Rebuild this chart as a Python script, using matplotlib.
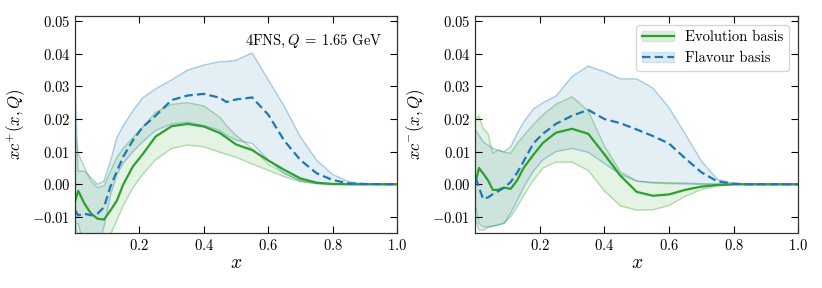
import matplotlib
matplotlib.use("Agg")
import matplotlib.pyplot as plt
from matplotlib.patches import Patch
from matplotlib.lines import Line2D
from matplotlib.ticker import FuncFormatter

plt.rcParams.update({
    "font.family": "serif",
    "font.serif": ["cmr10", "DejaVu Serif"],
    "mathtext.fontset": "cm",
    "axes.unicode_minus": False,
    "font.size": 10,
})

# ---------------- left panel: x c+ ----------------
x_L = [0.001, 0.01, 0.03, 0.05, 0.07, 0.09, 0.11, 0.13, 0.15, 0.18, 0.21, 0.25,
       0.30, 0.35, 0.40, 0.45, 0.47, 0.50, 0.55, 0.60, 0.65, 0.70, 0.75, 0.80,
       0.85, 0.90, 1.0]
evo_cp = [-0.005, -0.002, -0.006, -0.009, -0.0105, -0.0108, -0.008, -0.005, 0.000,
          0.0055, 0.0092, 0.0146, 0.0178, 0.0185, 0.0177, 0.0157, 0.0143, 0.0122,
          0.0105, 0.0073, 0.0044, 0.0018, 0.0005, 0.0001, 0.0, 0.0, 0.0]
evo_cp_hi = [0.015, 0.0095, 0.005, 0.001, -0.001, -0.0005, 0.004, 0.0083, 0.011,
             0.0144, 0.0175, 0.022, 0.0245, 0.025, 0.024, 0.0205, 0.018, 0.015,
             0.011, 0.0062, 0.0033, 0.0013, 0.0004, 0.0001, 0.0, 0.0, 0.0]
evo_cp_lo = [-0.012, -0.016, -0.020, -0.022, -0.022, -0.020, -0.0155, -0.011,
             -0.0065, -0.001, 0.003, 0.0075, 0.011, 0.012, 0.0115, 0.0098, 0.0092,
             0.0083, 0.0062, 0.0043, 0.0023, 0.0008, 0.0002, 0.0, 0.0, 0.0, 0.0]
fla_cp = [-0.008, -0.0095, -0.009, -0.0095, -0.009, -0.007, -0.0007, 0.004, 0.0085,
          0.0135, 0.0175, 0.021, 0.0258, 0.0272, 0.0277, 0.0265, 0.0252, 0.026,
          0.0266, 0.0213, 0.0133, 0.0074, 0.0034, 0.0013, 0.0003, 0.0001, 0.0]
fla_cp_hi = [0.028, 0.004, 0.004, 0.002, 0.0, 0.001, 0.007, 0.0143, 0.018, 0.0225,
             0.0265, 0.0292, 0.032, 0.035, 0.0365, 0.0376, 0.0376, 0.038, 0.0402,
             0.032, 0.0238, 0.0145, 0.0074, 0.003, 0.0008, 0.0001, 0.0]
fla_cp_lo = [-0.012, -0.012, -0.020, -0.025, -0.020, -0.013, -0.0035, 0.003, 0.0065,
             0.010, 0.013, 0.0165, 0.0185, 0.019, 0.018, 0.0165, 0.015, 0.0135,
             0.0125, 0.0074, 0.0034, 0.001, 0.0002, 0.0, 0.0, 0.0, 0.0]

# ---------------- right panel: x c- ----------------
x_R = [0.002, 0.012, 0.025, 0.04, 0.055, 0.07, 0.09, 0.11, 0.13, 0.15, 0.18, 0.21,
       0.25, 0.30, 0.35, 0.40, 0.45, 0.50, 0.55, 0.60, 0.65, 0.70, 0.75, 0.80,
       0.85, 0.90, 1.0]
evo_cm = [0.001, 0.005, 0.0033, 0.0012, -0.0017, -0.0017, -0.001, -0.0014, 0.0012,
          0.005, 0.009, 0.0127, 0.0158, 0.017, 0.0155, 0.0092, 0.0026, -0.0023,
          -0.0035, -0.0031, -0.0017, -0.0007, -0.0002, 0.0, 0.0, 0.0, 0.0]
evo_cm_hi = [0.020, 0.021, 0.017, 0.0155, 0.0095, 0.0105, 0.0098, 0.0095, 0.0125,
             0.0148, 0.0183, 0.0213, 0.0245, 0.0268, 0.0225, 0.0118, 0.0038, 0.001,
             0.0006, 0.0005, 0.0004, 0.0002, 0.0001, 0.0, 0.0, 0.0, 0.0]
evo_cm_lo = [-0.007, -0.012, -0.013, -0.013, -0.0128, -0.0125, -0.0118, -0.010,
             -0.0068, -0.0035, 0.0012, 0.005, 0.0068, 0.0068, 0.0043, -0.002,
             -0.0066, -0.0079, -0.0078, -0.0065, -0.0037, -0.0016, -0.0005,
             -0.0001, 0.0, 0.0, 0.0]
fla_cm = [0.002, -0.001, -0.0045, -0.004, -0.003, -0.0022, -0.001, 0.0007, 0.0035,
          0.007, 0.0125, 0.0155, 0.0185, 0.021, 0.0228, 0.020, 0.0187, 0.0168,
          0.0148, 0.0125, 0.008, 0.0037, 0.0009, 0.0002, 0.0, 0.0, 0.0]
fla_cm_hi = [0.0166, 0.015, 0.013, 0.012, 0.011, 0.0105, 0.010, 0.0115, 0.0155,
             0.019, 0.023, 0.025, 0.027, 0.033, 0.0362, 0.0345, 0.0323, 0.0323,
             0.0295, 0.0235, 0.0155, 0.0072, 0.0015, 0.0003, 0.0, 0.0, 0.0]
fla_cm_lo = [-0.011, -0.014, -0.014, -0.0132, -0.0128, -0.0125, -0.012, -0.0088,
             -0.005, -0.001, 0.004, 0.0075, 0.010, 0.011, 0.0098, 0.0064, 0.003,
             0.001, 0.0004, 0.0002, 0.0001, 0.0, 0.0, 0.0, 0.0, 0.0, 0.0]

labels = ["Evolution basis", "Flavour basis"]
ylabels = [r"$xc^{+}(x,Q)$", r"$xc^{-}(x,Q)$"]
annot = r"4FNS$,Q\:=\:1.65$ GeV"
xticks = [0.2, 0.4, 0.6, 0.8, 1.0]
yticks = [-0.01, 0.0, 0.01, 0.02, 0.03, 0.04, 0.05]

GREEN = "#2ca02c"
BLUE = "#1f77b4"

fig = plt.figure(figsize=(8.22, 2.88), dpi=100)
axL = fig.add_axes([0.0912, 0.191, 0.392, 0.753])
axR = fig.add_axes([0.578, 0.191, 0.393, 0.753])

panels = [
    (axL, x_L, evo_cp, evo_cp_lo, evo_cp_hi, fla_cp, fla_cp_lo, fla_cp_hi, ylabels[0]),
    (axR, x_R, evo_cm, evo_cm_lo, evo_cm_hi, fla_cm, fla_cm_lo, fla_cm_hi, ylabels[1]),
]

fmt = FuncFormatter(lambda v, p: r"$%.2f$" % v if abs(v) > 1e-9 else r"$0.00$")

for ax, x, ec, elo, ehi, fc, flo, fhi, yl in panels:
    ax.fill_between(x, flo, fhi, facecolor=BLUE, alpha=0.12, linewidth=0)
    ax.plot(x, flo, color=BLUE, alpha=0.35, lw=1.0)
    ax.plot(x, fhi, color=BLUE, alpha=0.35, lw=1.0)
    ax.fill_between(x, elo, ehi, facecolor=GREEN, alpha=0.12, linewidth=0)
    ax.plot(x, elo, color=GREEN, alpha=0.35, lw=1.0)
    ax.plot(x, ehi, color=GREEN, alpha=0.35, lw=1.0)
    ax.plot(x, ec, color=GREEN, lw=1.6)
    ax.plot(x, fc, color=BLUE, lw=1.6, ls=(0, (3.8, 1.9)))
    ax.set_xlim(0.0, 1.0)
    ax.set_ylim(-0.0149, 0.0515)
    ax.set_xticks(xticks)
    ax.set_xticklabels(["$%.1f$" % t for t in xticks])
    ax.set_yticks(yticks)
    ax.yaxis.set_major_formatter(fmt)
    ax.tick_params(direction="in", top=True, right=True, length=5, width=0.8,
                   labelsize=10.5, pad=3.5)
    ax.set_xlabel(r"$x$", fontsize=14, labelpad=1)
    ax.set_ylabel(yl, fontsize=12, labelpad=4)
    for s in ax.spines.values():
        s.set_linewidth(0.9)
        s.set_color("#333333")

axL.text(0.955, 0.885, annot, transform=axL.transAxes, ha="right", va="center",
         fontsize=10.5)

h_evo = (Patch(facecolor=GREEN, alpha=0.15, edgecolor=GREEN),
         Line2D([], [], color=GREEN, lw=1.6))
h_fla = (Patch(facecolor=BLUE, alpha=0.15, edgecolor=BLUE),
         Line2D([], [], color=BLUE, lw=1.6, ls=(0, (3.8, 1.9))))
axR.legend([h_evo, h_fla], labels, loc="upper right", fontsize=10.5,
           framealpha=0.8, edgecolor="#cccccc", fancybox=True,
           borderaxespad=0.6, handlelength=2.2)

fig.savefig("out.png", dpi=100)
